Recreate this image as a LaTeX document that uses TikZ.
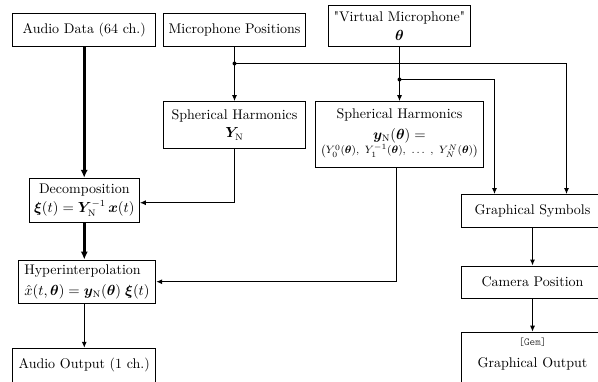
\documentclass[tikz,border=0pt]{standalone}
\usepackage{amsmath,bm}
\usetikzlibrary{arrows.meta}
\begin{document}
\begin{tikzpicture}[x=0.75pt,y=-0.75pt,
  box/.style={draw, line width=0.8pt, inner sep=2pt, align=center, font=\fontsize{10.5}{12.6}\selectfont},
  thinarrow/.style={line width=0.8pt, -{Latex[length=4.5pt,width=3.8pt]}},
  thickarrow/.style={line width=2pt, -{Latex[length=6pt,width=5.5pt]}},
  junction/.style={circle, fill, inner sep=0pt, minimum size=3pt}]
\useasboundingbox (0,0) rectangle (598,381);
\clip (0,0) rectangle (598,381);

\node[box, minimum width=107.25pt, minimum height=24.5pt] (audio) at (84.2,30.3) {Audio Data (64 ch.)};
\node[box, minimum width=107pt, minimum height=24.5pt] (mic) at (234.5,30.3) {Microphone Positions};
\node[box, minimum width=106.5pt, minimum height=31pt] (vmic) at (399.5,26) {\textquotedbl Virtual Microphone\textquotedbl\\[2pt] $\boldsymbol{\theta}$};
\node[box, minimum width=107pt, minimum height=35pt] (shY) at (234.5,125) {Spherical Harmonics\\[1pt] $\boldsymbol{Y}_{\mathrm{N}}$};
\node[box, minimum width=126pt, minimum height=49.2pt, text depth=5pt] (shy) at (399.5,134.5)
  {Spherical Harmonics\\[3pt] $\boldsymbol{y}_{\mathrm{N}}(\boldsymbol{\theta}) =$\\[-1.5pt]
   {\footnotesize $\bigl(Y_0^0(\boldsymbol{\theta}),\ Y_1^{-1}(\boldsymbol{\theta}),\ \dots\ ,\ Y_N^N(\boldsymbol{\theta})\bigr)$}};
\node[box, minimum width=82.5pt, minimum height=32.8pt] (decomp) at (84.3,200.2)
  {Decomposition\\[2pt] $\boldsymbol{\xi}(t) = \boldsymbol{Y}_{\mathrm{N}}^{-1}\,\boldsymbol{x}(t)$};
\node[box, align=left, minimum width=103pt, minimum height=32.5pt] (hyper) at (87,281.7)
  {Hyperinterpolation\\[3pt] $\hat{x}(t,\boldsymbol{\theta}) = \boldsymbol{y}_{\mathrm{N}}(\boldsymbol{\theta})\;\boldsymbol{\xi}(t)$};
\node[box, minimum width=107.25pt, minimum height=25.3pt] (aout) at (84.2,365.2) {Audio Output (1 ch.)};
\node[box, minimum width=106pt, minimum height=24.6pt] (gsym) at (532.5,211) {Graphical Symbols};
\node[box, minimum width=106pt, minimum height=24.2pt] (cam) at (532.5,282.2) {Camera Position};
\node[box, anchor=north, minimum width=106pt, inner ysep=4.5pt, text depth=20pt] (gout) at (532.5,331.7)
  {{\footnotesize\fontseries{l}\ttfamily [Gem]}\\[4pt] Graphical Output};

% thick audio path
\draw[thickarrow] (audio.south) -- (audio.south |- decomp.north);
\draw[thickarrow] (decomp.south) -- (decomp.south |- hyper.north);
\draw[thinarrow] (decomp.south |- hyper.south) -- (decomp.south |- aout.north);

% microphone positions
\coordinate (j1) at (234.5,63.5);
\coordinate (c1) at (566.5,63.5);
\draw[thinarrow] (mic.south) -- (shY.north);
\draw[thinarrow] (j1) -- (c1) -- (c1 |- gsym.north);
\node[junction] (dot1) at (j1) {};

% virtual microphone
\coordinate (j2) at (399.5,79.5);
\coordinate (c2) at (494.5,79.5);
\draw[thinarrow] (vmic.south) -- (shy.north);
\draw[thinarrow] (j2) -- (c2) -- (c2 |- gsym.north);
\node[junction] (dot2) at (j2) {};

% spherical harmonics outputs
\draw[thinarrow] (shY.south) |- ([yshift=-1.9pt]decomp.east);
\coordinate (s3) at (396.5,167.3);
\draw[thinarrow] (s3) |- (hyper.east);

% graphics chain
\draw[thinarrow] (gsym.south) -- (cam.north);
\draw[thinarrow] (cam.south) -- (gout.north);
\end{tikzpicture}
\end{document}
